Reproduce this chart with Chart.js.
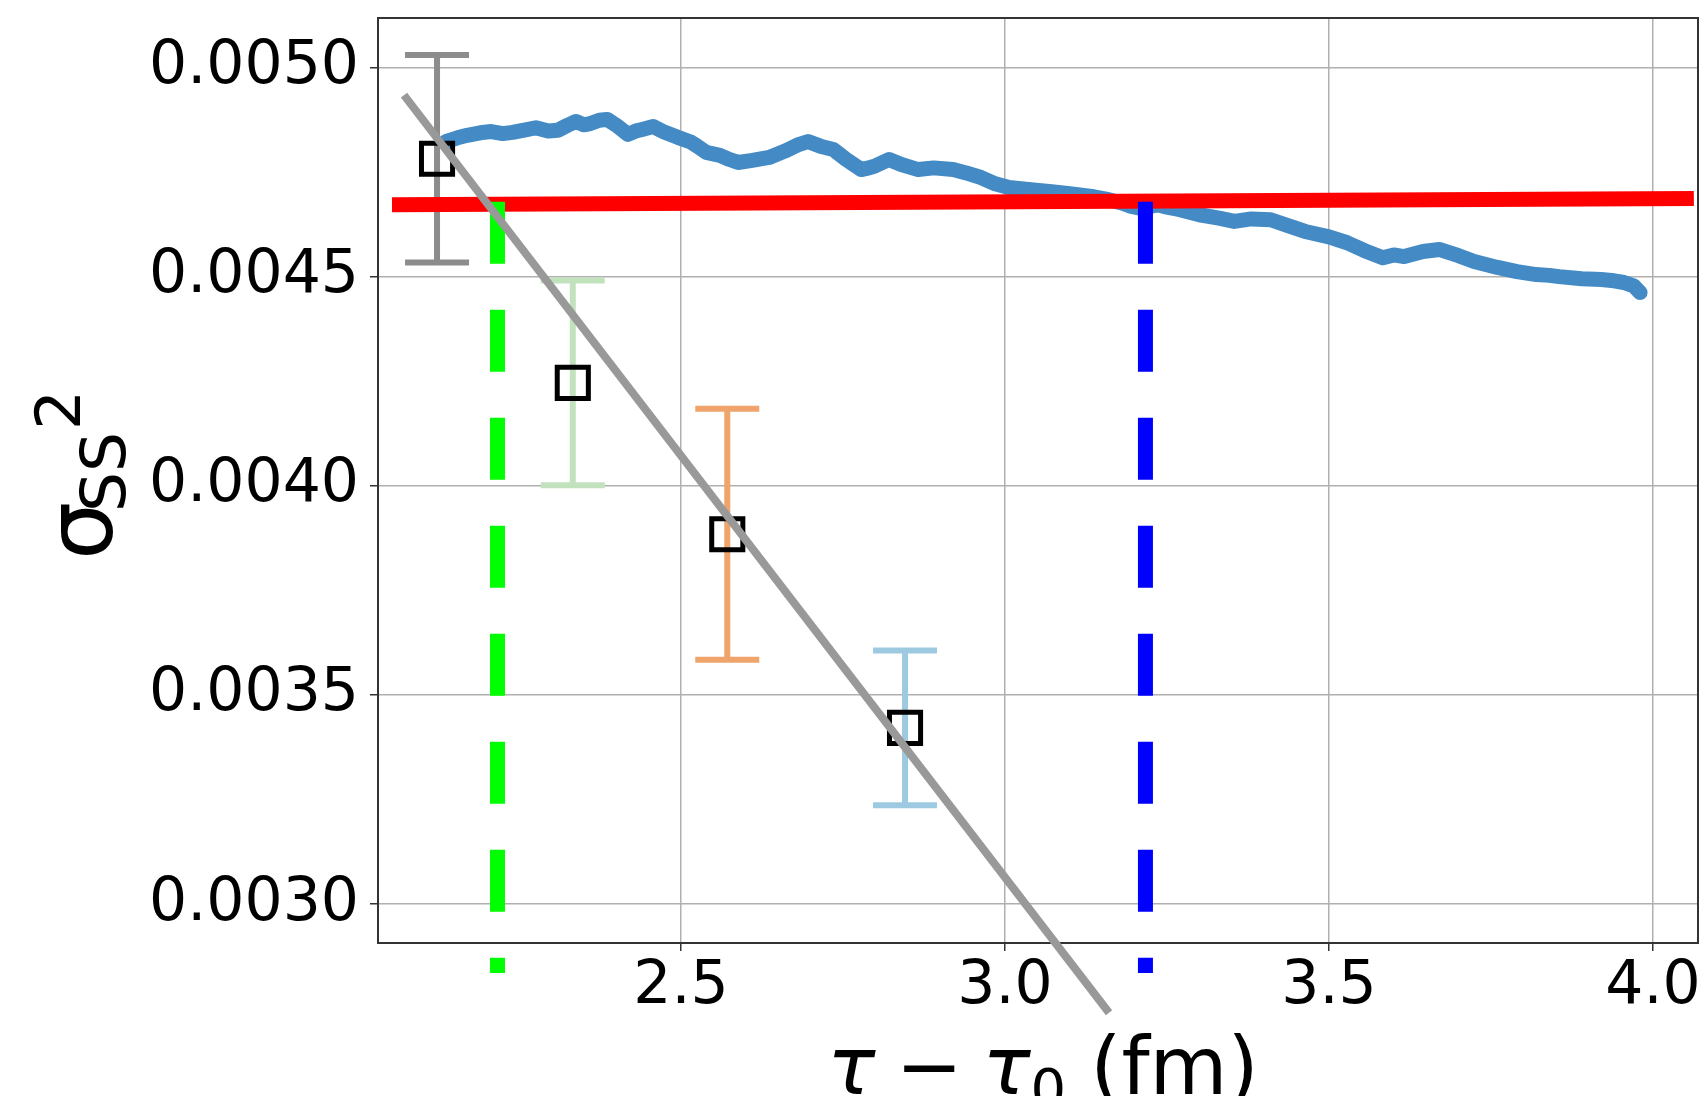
<!DOCTYPE html>
<html>
<head>
<meta charset="utf-8">
<script src="https://cdn.jsdelivr.net/npm/chart.js@4.4.0/dist/chart.umd.min.js"></script>
<style>
  html, body { margin: 0; padding: 0; background: #fff; overflow: hidden; }
  #wrap { width: 1707px; height: 1160px; }
</style>
</head>
<body>
<div id="wrap"><canvas id="chart" width="1707" height="1160"></canvas></div>
<script>
// running sigma^2 curve
var curveX = [2.137, 2.155, 2.17, 2.19, 2.207, 2.225, 2.24, 2.26, 2.276, 2.295, 2.31, 2.325, 2.338, 2.35,
  2.36, 2.374, 2.386, 2.40, 2.418, 2.43, 2.44, 2.457, 2.475, 2.495, 2.515, 2.525, 2.539, 2.56, 2.575,
  2.588, 2.61, 2.636, 2.66, 2.68, 2.696, 2.715, 2.735, 2.755, 2.778, 2.79, 2.80, 2.821, 2.84, 2.866,
  2.89, 2.92, 2.94, 2.963, 2.985, 3.006, 3.04, 3.072, 3.10, 3.137, 3.16, 3.18, 3.195, 3.21, 3.236,
  3.25, 3.27, 3.30, 3.33, 3.354, 3.38, 3.41, 3.44, 3.463, 3.50, 3.528, 3.555, 3.583, 3.60, 3.616,
  3.645, 3.67, 3.70, 3.724, 3.76, 3.79, 3.82, 3.84, 3.855, 3.89, 3.92, 3.94, 3.955, 3.97, 3.98];
var curveY = [0.004823, 0.004832, 0.004838, 0.004844, 0.004847, 0.004842, 0.004845, 0.004851, 0.004856,
  0.004848, 0.004850, 0.004862, 0.004871, 0.004863, 0.004866, 0.004874, 0.004876, 0.004862, 0.004840,
  0.004848, 0.004852, 0.004859, 0.004845, 0.004833, 0.004822, 0.004812, 0.004797, 0.004790, 0.004780,
  0.004773, 0.004778, 0.004785, 0.004800, 0.004815, 0.004823, 0.004812, 0.004804, 0.004780, 0.004756,
  0.004760, 0.004765, 0.004780, 0.004768, 0.004756, 0.004760, 0.004756, 0.004748, 0.004737, 0.004722,
  0.004713, 0.004708, 0.004703, 0.004698, 0.004691, 0.004684, 0.004676, 0.004668, 0.004663, 0.004672,
  0.004666, 0.004660, 0.004648, 0.004640, 0.004632, 0.004638, 0.004636, 0.004620, 0.004608, 0.004595,
  0.004581, 0.004562, 0.004545, 0.004552, 0.004548, 0.004560, 0.004565, 0.004550, 0.004536, 0.004522,
  0.004512, 0.004505, 0.004503, 0.004500, 0.004495, 0.004493, 0.004490, 0.004486, 0.004478, 0.004462];

// horizontal reference level
var levelX = [2.054, 4.063];
var levelY = [0.004672, 0.004687];

// straight fit through the points
var fitX = [2.0725, 3.1605];
var fitY = [0.004934, 0.00274];

// vertical dashed markers
var greenX = 2.2168;
var blueX = 3.2167;
var vlineY = [0.004679, 0.002835];

// points with error bars
var pointX = [2.1235, 2.333, 2.5714, 2.8457];
var pointY = [0.004782, 0.004246, 0.003884, 0.003421];
var pointErr = [0.000248, 0.000245, 0.000300, 0.000185];

var xTicks = [2.5, 3.0, 3.5, 4.0];
var yTicks = [0.0030, 0.0035, 0.0040, 0.0045, 0.0050];

var errColors = ['#8c8c8c', '#c2e2bd', '#eea46a', '#9ecae1'];

function pts(xs, ys) {
    return xs.map(function (x, i) { return { x: x, y: ys[i] }; });
}

var datasets = [];

datasets.push({
    data: pts(fitX, fitY),
    showLine: true, borderColor: '#999999', borderWidth: 8,
    pointRadius: 0, clip: false, order: 0
});

datasets.push({
    data: pts(pointX, pointY),
    showLine: false, pointStyle: 'rect', pointRadius: 22,
    pointBorderWidth: 5, pointBorderColor: '#000000',
    pointBackgroundColor: 'rgba(0,0,0,0)', order: 1
});

[[greenX, '#00ff00'], [blueX, '#0000ff']].forEach(function (v) {
    datasets.push({
        data: pts([v[0], v[0]], vlineY),
        showLine: true, borderColor: v[1], borderWidth: 15,
        borderDash: [62, 46], pointRadius: 0, clip: false, order: 2
    });
});

datasets.push({
    data: pts(levelX, levelY),
    showLine: true, borderColor: '#ff0000', borderWidth: 15,
    pointRadius: 0, clip: false, order: 3
});

datasets.push({
    data: pts(curveX, curveY),
    showLine: true, borderColor: '#448bc6', borderWidth: 15,
    borderJoinStyle: 'round', borderCapStyle: 'round',
    pointRadius: 0, order: 4
});

pointX.forEach(function (x, i) {
    datasets.push({
        data: pts([x, x], [pointY[i] - pointErr[i], pointY[i] + pointErr[i]]),
        showLine: true, borderColor: errColors[i], borderWidth: 6,
        pointStyle: 'line', pointRadius: 32, pointBorderWidth: 6,
        pointBorderColor: errColors[i], order: 5
    });
});

var framePlugin = {
    id: 'frame',
    beforeDatasetsDraw: function (chart) {
        var a = chart.chartArea, ctx = chart.ctx;
        ctx.save();
        ctx.strokeStyle = '#333333';
        ctx.lineWidth = 2;
        ctx.strokeRect(a.left, a.top, a.right - a.left, a.bottom - a.top);
        ctx.restore();
    }
};

// axis titles with mixed sub/superscript sizes
var labelPlugin = {
    id: 'labels',
    afterDraw: function (chart) {
        var ctx = chart.ctx, a = chart.chartArea;
        ctx.save();
        ctx.fillStyle = '#000';
        ctx.textAlign = 'left';
        ctx.textBaseline = 'alphabetic';

        ctx.save();
        ctx.translate(112, 560);
        ctx.rotate(-Math.PI / 2);
        ctx.font = '92px "DejaVu Sans"';
        ctx.fillText('σ', 0, 0);
        ctx.font = '63px "DejaVu Sans"';
        ctx.fillText('SS', 48, 13);
        ctx.fillText('2', 130, -32);
        ctx.restore();

        var parts = [
            { t: 'τ', f: 'italic 80px "DejaVu Sans"', dy: 0, gap: 0 },
            { t: '−', f: '80px "DejaVu Sans"', dy: 0, gap: 20 },
            { t: 'τ', f: 'italic 80px "DejaVu Sans"', dy: 0, gap: 20 },
            { t: '0', f: '56px "DejaVu Sans"', dy: 14, gap: 0 },
            { t: '(fm)', f: '80px "DejaVu Sans"', dy: 0, gap: 24 }
        ];
        var total = 0;
        parts.forEach(function (p) {
            ctx.font = p.f;
            p.w = ctx.measureText(p.t).width;
            total += p.w + p.gap;
        });
        var x = (a.left + a.right) / 2 + 5 - total / 2;
        parts.forEach(function (p) {
            x += p.gap;
            ctx.font = p.f;
            ctx.fillText(p.t, x, 1094 + p.dy);
            x += p.w;
        });
        ctx.restore();
    }
};

var tickFont = { family: 'DejaVu Sans', size: 60 };

new Chart(document.getElementById('chart').getContext('2d'), {
    type: 'scatter',
    data: { datasets: datasets },
    options: {
        responsive: false,
        animation: false,
        events: [],
        layout: { autoPadding: false, padding: { left: 0, right: 9, top: 18, bottom: 0 } },
        plugins: { legend: { display: false }, tooltip: { enabled: false } },
        scales: {
            x: {
                type: 'linear', min: 2.0324, max: 4.0694,
                afterBuildTicks: function (s) { s.ticks = xTicks.map(function (v) { return { value: v }; }); },
                afterFit: function (s) { s.height = 217; s.paddingLeft = 0; s.paddingRight = 0; },
                border: { display: false },
                grid: { color: '#b0b0b0', lineWidth: 1.5, tickLength: 8, tickColor: '#333333', tickWidth: 1.5 },
                ticks: { font: tickFont, color: '#000', padding: 0, maxRotation: 0,
                    callback: function (v) { return v.toFixed(1); } }
            },
            y: {
                type: 'linear', min: 0.0029067, max: 0.0051184,
                afterBuildTicks: function (s) { s.ticks = yTicks.map(function (v) { return { value: v }; }); },
                afterFit: function (s) { s.width = 378; s.paddingTop = 0; s.paddingBottom = 0; },
                border: { display: false },
                grid: { color: '#b0b0b0', lineWidth: 1.5, tickLength: 8, tickColor: '#333333', tickWidth: 1.5 },
                ticks: { font: tickFont, color: '#000', padding: 11,
                    callback: function (v) { return v.toFixed(4); } }
            }
        }
    },
    plugins: [framePlugin, labelPlugin]
});
</script>
</body>
</html>
